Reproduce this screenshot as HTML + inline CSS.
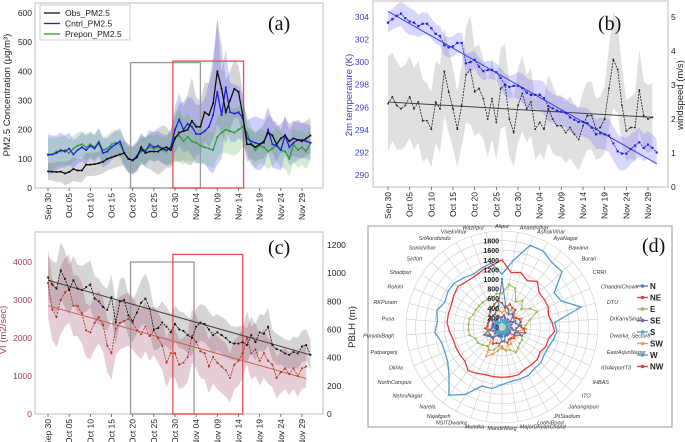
<!DOCTYPE html>
<html><head><meta charset="utf-8"><style>
body{margin:0;background:#fff;}
svg{display:block;font-family:"Liberation Sans",sans-serif;}
</style></head><body>
<svg id="fig" width="685" height="442" viewBox="0 0 685 442" xmlns="http://www.w3.org/2000/svg"></svg>
<script>
// ---------- shared ----------
const dateTicks = ["Sep 30","Oct 05","Oct 10","Oct 15","Oct 20","Oct 25","Oct 30","Nov 04","Nov 09","Nov 14","Nov 19","Nov 24","Nov 29"];
const dateTickDays = [0,5,10,15,20,25,30,35,40,45,50,55,60];

// ---------- panel (a) ----------
const aObs = [57,56,55,56,50,55,65,60,60,80, 80,82,85,90,100,105,110,115,120,100, 95,105,140,120,125,125,125,135,140,130, 170,190,195,200,230,210,210,260,250,290, 400,340,260,300,340,330,250,150,150,140, 150,160,190,180,150,170,180,160,170,165, 160,170,180];
const aCntrl = [115,115,120,130,125,135,115,130,140,130, 145,135,155,120,125,140,150,160,120,100, 95,110,130,125,150,140,145,135,130,140, 200,235,200,220,210,185,185,195,210,250, 330,250,345,260,255,260,240,170,160,155, 150,155,200,150,145,130,180,140,155,165, 165,160,155];
const aPrepon = [112,115,125,125,130,120,135,145,150,140, 150,140,160,130,135,150,155,150,120,100, 95,110,125,130,140,135,140,130,125,140, 175,180,160,175,160,155,145,140,135,130, 175,190,200,195,190,200,210,190,150,130, 145,140,125,135,150,130,125,100,150,130, 140,125,155];
const aObsSpread = [30,30,35,35,40,40,40,40,40,40, 40,40,40,40,40,40,40,40,40,45, 45,50,50,50,60,70,80,80,70,60, 80,100,100,120,150,100,90,100,110,120, 180,150,110,100,100,90,80,60,50,50, 50,60,60,60,60,50,60,60,60,60, 60,60,60];
const aCntrlSpread = [70,65,60,60,55,55,50,45,50,50, 45,45,50,50,45,45,45,45,50,50, 50,50,50,50,50,50,50,50,50,60, 80,90,80,90,100,100,100,110,150,200, 250,150,130,100,100,90,80,60,80,90, 90,80,80,80,80,70,70,60,70,70, 60,60,60];
const aPreponSpread = [60,55,50,50,50,45,45,45,45,45, 45,45,45,45,45,45,45,45,45,45, 45,45,45,45,45,45,45,45,50,60, 80,90,80,80,70,70,60,60,60,60, 70,70,80,80,80,80,70,60,60,60, 60,60,60,60,60,60,60,60,60,60, 60,60,60];
const aYTicks = [0,100,200,300,400,500,600];
const aGrayBox = [19.5,36,430];
const aRedBox = [29.5,46.2,435];

// ---------- panel (b) ----------
const bTemp = [303.5,303.8,304.1,304.3,303.9,303.6,303.5,303.2,303.4,303.4, 303,302.5,302.3,301.5,301.3,301.4,301.7,301.7,299.9,300, 300.2,299.6,299.2,299.3,299.3,299.1,298.6,298,297.8,297.9, 297.9,297.7,297.3,297.1,297.1,297.1,296.8,296.1,295.9,295.7, 295.6,295.5,295.1,294.9,294.7,294.7,294.6,294.2,293.6,293.7, 293.6,293.5,292.8,292.1,291.9,291.9,292.3,292.6,292.9,292.4, 292.7,292.4,292.0];
const bWind = [2.45,2.65,2.4,2.3,2.4,2.65,2.3,2.5,1.95,1.95, 1.7,2.5,2.3,3.4,2.8,2.3,1.7,2.4,3.3,3.45, 2.8,2.9,2.6,2.0,2.6,1.9,2.9,3.0,2.0,1.6, 2.4,2.75,2.3,2.5,1.7,1.9,1.7,2.3,2.0,1.8, 1.8,1.6,1.75,1.55,1.4,1.8,2.1,2.1,1.7,1.75, 2.0,2.9,3.75,3.45,2.4,1.65,1.75,1.75,2.85,2.1, 2.0,2.05];
const bTempSpread = [0.9,0.9,1.0,1.1,1.2,1.2,1.1,1.0,1.0,1.0, 0.9,0.9,0.9,0.9,0.9,0.9,0.9,0.9,0.9,0.9, 0.8,0.8,0.8,0.8,0.8,0.8,0.9,1.0,1.0,1.0, 1.2,1.3,1.3,1.3,1.3,1.3,1.4,1.4,1.3,1.3, 1.3,1.3,1.3,1.3,1.3,1.3,1.3,1.3,1.3,1.4, 1.4,1.5,1.5,1.5,1.5,1.4,1.3,1.3,1.3,1.2, 1.2,1.2,1.2];
const bWindSpread = [1.4,1.3,1.3,1.2,1.2,1.2,1.2,1.2,1.2,1.1, 1.1,1.2,1.3,1.3,1.2,1.2,1.1,1.2,1.4,1.6, 1.3,1.3,1.2,1.1,1.2,1.1,1.2,1.2,1.1,1.0, 1.1,1.1,1.0,1.0,0.9,0.9,0.9,1.0,1.0,0.9, 0.9,0.9,0.9,0.9,0.9,1.0,1.0,1.0,0.9,0.9, 1.0,1.2,1.4,1.3,1.1,0.9,0.9,1.0,1.2,1.0, 1.0,1.0];
const bTempTrend = [304.5,291.0];
const bWindTrend = [2.5,2.05];
const bLeftTicks = [290,292,294,296,298,300,302,304];
const bRightTicks = [0,1,2,3,4,5];

// ---------- panel (c) ----------
const cPBLH = [970,920,890,1020,960,880,950,890,880,900, 920,820,800,760,740,830,650,800,810,700, 660,720,790,820,750,600,610,650,620,580, 640,600,590,560,540,620,650,640,600,560, 580,560,540,510,500,500,510,490,560,510, 580,570,620,490,460,450,430,420,440,430, 480,490,420];
const cVI = [3450,2750,2550,3000,3200,3300,2850,2850,2650,2200, 2150,2400,2550,2350,1800,1600,2250,2400,2450,2500, 2400,2200,2100,2300,2050,2200,2000,1800,1350,1600, 1600,1300,1350,1500,2050,1900,1650,1600,1250,1500, 1350,1250,1150,950,1300,1400,1600,2000,1600,1700, 1400,1600,1400,1300,950,1100,1200,1050,1200,1000, 1200,1250];
const cPBLHSpread = [150,170,180,200,200,180,170,170,170,170, 170,160,160,150,150,160,150,160,160,150, 150,150,160,180,170,150,150,150,140,130, 130,130,130,130,130,130,130,130,130,130, 130,130,130,120,120,120,120,120,130,130, 130,130,130,110,110,100,100,100,110,110, 110,110,110];
const cVISpread = [900,800,800,900,900,900,800,800,800,700, 700,700,700,700,700,700,700,700,700,700, 700,650,650,650,650,650,650,650,650,650, 650,650,650,650,700,700,700,700,700,700, 700,700,700,650,650,650,650,700,700,700, 650,650,600,600,550,550,550,550,550,550, 550,550];
const cPBLHTrend = [950,420];
const cVITrend = [2850,930];
const cLeftTicks = [0,1000,2000,3000,4000];
const cRightTicks = [0,200,400,600,800,1000,1200];
const cGrayBox = [19.5,34.5,4000];
const cRedBox = [29.5,46,4200];

// ---------- panel (d) ----------
const dStations = ["Alipur","AnandVihar","AshokVihar","AyaNagar","Bawana","Burari","CRRI","ChandniChowk","DTU","DrKarniSingh","Dwarka_Sector8","EastArjunNagar","IGIAirportT3","IHBAS","ITO","Jahangirpuri","JNStadium","LodhiRoad","MajorDhyanChand","MandirMarg","Mundka","NSITDwarka","Najafgarh","Narela","NehruNagar","NorthCampus","Okhla","Patparganj","PunjabiBagh","Pusa","RKPuram","Rohini","Shadipur","Sirifort","SoniaVihar","SriAurobindo","VivekVihar","Wazirpur"];
const dRingTicks = [0,200,400,600,800,1000,1200,1400,1600,1800];
const dSeriesNames = ["N","NE","E","SE","S","SW","W","NW"];
const dN  = [1000,450,400,300,350,300,200,300,300,400, 300,300,450,300,200,200,200,200,300,300, 200,200,200,250,300,350,400,300,200,200, 200,200,250,300,300,300,400,450];
const dNE = [500,400,500,450,450,300,350,400,400,350, 450,500,300,300,350,300,300,350,300,300, 350,350,400,300,300,300,400,300,350,300, 300,300,300,350,400,450,500,550];
const dE  = [700,900,850,600,700,550,700,800,600,500, 450,500,450,500,500,550,600,500,500,450, 400,500,550,500,550,600,600,700,700,700, 700,650,650,650,650,650,650,700];
const dSE = [200,250,200,150,200,150,200,250,200,150, 200,250,150,200,150,150,200,150,150,200, 150,200,150,150,200,150,200,250,200,150, 200,150,150,200,150,200,250,200];
const dS  = [150,100,150,100,150,100,100,150,100,150, 100,150,100,100,150,100,100,150,100,150, 100,100,150,100,150,100,100,150,100,150, 100,100,150,100,150,100,100,150];
const dSW = [300,350,300,400,400,350,300,450,400,350, 500,350,400,350,300,300,400,400,500,400, 500,600,700,400,300,300,300,250,300,300, 300,300,300,300,300,300,350,350];
const dW  = [1100,1400,1800,1800,1700,1700,1300,1350,1700,1100, 1150,1100,1050,1050,1100,1100,1150,1150,1150,1200, 1300,1300,1600,1800,1500,1350,1300,1300,1400,1350, 1400,1300,1350,1350,1300,1250,1300,1350];
const dNW = [1400,1150,1200,1100,1200,1050,1050,1050,1000,1050, 1100,1000,1000,950,1000,1000,1000,1050,1050,1050, 1050,1050,1100,1150,1050,1050,1050,1050,1100,1150, 1150,1150,1200,1250,1200,1200,1250,1300];
const dColors = ["#4a7ebb","#be4b48","#98b954","#7d60a0","#46aac5","#f79646","#4f9bd0","#e03c3c"];

// ---------- helpers ----------
const NS = "http://www.w3.org/2000/svg";
const fig = document.getElementById('fig');
function mk(tag, attrs, parent){
  const e = document.createElementNS(NS, tag);
  for (const k in attrs) e.setAttribute(k, attrs[k]);
  (parent||fig).appendChild(e);
  return e;
}
function pathD(pts){ return pts.map((p,i)=>(i?'L':'M')+p[0].toFixed(1)+' '+p[1].toFixed(1)).join(''); }

function drawFrame(x1,y1,x2,y2,name){
  const r = mk('rect',{x:x1,y:y1,width:x2-x1,height:y2-y1,fill:'none',stroke:'#c8c8c8','stroke-width':1.2});
  
  
}
function drawXTicks(xf, yAxis, prefix){
  dateTickDays.forEach((d,i)=>{
    const x = xf(d);
    const t = mk('line',{x1:x,y1:yAxis,x2:x,y2:yAxis+3,stroke:'#555','stroke-width':0.8});
    
    
    const tx = mk('text',{x:0,y:0,'font-size':8.5,fill:'#222','text-anchor':'end',transform:`translate(${x+3},${yAxis+5}) rotate(-90)`});
    tx.textContent = dateTicks[i];
    
    
  });
}
function drawYTicks(ticks, yf, x, anchor, color, prefix){
  ticks.forEach(v=>{
    const tx = mk('text',{x:x,y:yf(v)+3,'font-size':8.5,fill:color,'text-anchor':anchor});
    tx.textContent = v;
    
    
  });
}
function drawBand(vals, spread, xf, yf, color, opacity, name){
  const up = vals.map((v,i)=>[xf(i),yf(v+spread[i])]);
  const lo = vals.map((v,i)=>[xf(i),yf(Math.max(0,v-spread[i]))]).reverse();
  const p = mk('path',{d:pathD(up.concat(lo))+'Z',fill:color,'fill-opacity':opacity,stroke:'none'});
  
  
}
function drawSeries(vals, xf, yf, color, w, dash, name, ms){
  const pts = vals.map((v,i)=>[xf(i),yf(v)]);
  const p = mk('path',{d:pathD(pts),fill:'none',stroke:color,'stroke-width':w,'stroke-dasharray':dash||'none'});
  
  
  pts.forEach(pt=>{
    const m = mk('rect',{x:pt[0]-ms/2,y:pt[1]-ms/2,width:ms,height:ms,fill:color});
    
    
  });
}
function drawBox(box, xf, yf, yBottom, color, name){
  const r = mk('rect',{x:xf(box[0]),y:yf(box[2]),width:xf(box[1])-xf(box[0]),height:yBottom-yf(box[2]),fill:'none',stroke:color,'stroke-width':1.3});
  
  
}
function drawTrend(tr, n, xf, yf, color, name){
  const l = mk('line',{x1:xf(0),y1:yf(tr[0]),x2:xf(n-1),y2:yf(tr[1]),stroke:color,'stroke-width':1});
  
  
}
function label(txt,x,y,size,name,fam){
  const t = mk('text',{x:x,y:y,'font-size':size,'font-family':fam||'"Liberation Serif",serif',fill:'#111'});
  t.textContent = txt;
  
  
}
function rotTitle(txt,x,y,color,name){
  const t = mk('text',{x:0,y:0,'font-size':9.5,fill:color,'text-anchor':'middle',transform:`translate(${x},${y}) rotate(-90)`});
  t.textContent = txt;
  
  
}

// ---------- draw (a) ----------
(function(){
  const xf = d => 48 + d*(302-48)/60;
  const yf = v => 188 - v*(188-13)/600;
  drawFrame(35,3,323,188,'panel-a-plot-area');
  drawBand(aObs,aObsSpread,xf,yf,'#888',0.35,'obs-band');
  drawBand(aCntrl,aCntrlSpread,xf,yf,'#6060ff',0.3,'cntrl-band');
  drawBand(aPrepon,aPreponSpread,xf,yf,'#50b050',0.25,'prepon-band');
  drawBox(aGrayBox,xf,yf,188,'#999','period-box-gray-a');
  drawBox(aRedBox,xf,yf,188,'#e05050','period-box-red-a');
  drawSeries(aPrepon,xf,yf,'#2f9a2f',1.2,null,'prepon-pm25-line',1.8);
  drawSeries(aCntrl,xf,yf,'#2020e0',1.3,null,'cntrl-pm25-line',1.8);
  drawSeries(aObs,xf,yf,'#111',1.3,null,'obs-pm25-line',1.8);
  drawXTicks(xf,188,'a');
  drawYTicks(aYTicks,yf,32,'end','#222','a-y');
  rotTitle('PM2.5 Concentration (μg/m³)',10,95,'#222','a-y-axis-title');
  label('(a)',268,30,20,'panel-a-label');
  const lg = mk('rect',{x:40,y:5,width:90,height:35,fill:'#fff','fill-opacity':0.85,stroke:'#ccc'});
  
  
  [['Obs_PM2.5','#111'],['Cntrl_PM2.5','#2020e0'],['Prepon_PM2.5','#2f9a2f']].forEach((e,i)=>{
    const y = 13+i*10.5;
    const l = mk('line',{x1:44,y1:y,x2:60,y2:y,stroke:e[1],'stroke-width':1.3});
    
    
    const t = mk('text',{x:65,y:y+3,'font-size':8.5,fill:'#222'});
    t.textContent = e[0];
    
    
  });
})();

// ---------- draw (b) ----------
(function(){
  const xf = d => 388 + d*(648-388)/60;
  const yl = v => 175 - (v-290)*(175-17)/14;
  const yr = v => 187 - v*(187-17)/5;
  drawFrame(373,1,668,187,'panel-b-plot-area');
  drawBand(bWind,bWindSpread,xf,yr,'#999',0.3,'wind-band');
  drawBand(bTemp,bTempSpread,xf,yl,'#7070ff',0.28,'temp-band');
  drawTrend(bTempTrend,bTemp.length,xf,yl,'#4040e0','temp-trend-line');
  drawTrend(bWindTrend,bWind.length,xf,yr,'#444','wind-trend-line');
  drawSeries(bWind,xf,yr,'#222',0.8,'2,1','windspeed-line',1.6);
  drawSeries(bTemp,xf,yl,'#2020e0',0.8,'2,1','temperature-line',2.2);
  drawXTicks(xf,187,'b');
  drawYTicks(bLeftTicks,yl,369,'end','#4040d0','b-left-y');
  drawYTicks(bRightTicks,yr,671,'start','#222','b-right-y');
  rotTitle('2m temperature (K)',352,95,'#4040d0','b-left-axis-title');
  rotTitle('windspeed (m/s)',683,95,'#222','b-right-axis-title');
  label('(b)',598,30,20,'panel-b-label');
})();

// ---------- draw (c) ----------
(function(){
  const xf = d => 48 + d*(302-48)/60;
  const yl = v => 414 - v*(414-262)/4000;
  const yr = v => 414 - v*(414-245)/1200;
  drawFrame(35,232,323,414,'panel-c-plot-area');
  drawBand(cPBLH,cPBLHSpread,xf,yr,'#888',0.35,'pblh-band');
  drawBand(cVI,cVISpread,xf,yl,'#a05070',0.28,'vi-band');
  drawBox(cGrayBox,xf,yl,414,'#999','period-box-gray-c');
  drawBox(cRedBox,xf,yl,414,'#e05050','period-box-red-c');
  drawTrend(cPBLHTrend,cPBLH.length,xf,yr,'#444','pblh-trend-line');
  drawTrend(cVITrend,cVI.length,xf,yl,'#d06050','vi-trend-line');
  drawSeries(cVI,xf,yl,'#b03020',0.8,'2,1','vi-line',1.8);
  drawSeries(cPBLH,xf,yr,'#111',0.8,'2,1','pblh-line',1.8);
  drawXTicks(xf,414,'c');
  drawYTicks(cLeftTicks,yl,32,'end','#a04050','c-left-y');
  drawYTicks(cRightTicks,yr,327,'start','#222','c-right-y');
  rotTitle('VI (m2/sec)',6,330,'#a04050','c-left-axis-title');
  rotTitle('PBLH (m)',355,327,'#222','c-right-axis-title');
  label('(c)',268,254,20,'panel-c-label');
})();

// ---------- draw (d) ----------
(function(){
  const cx = 502, cy = 327, R = 96, maxV = 2000;
  const fr = mk('rect',{x:368,y:226,width:304,height:201,fill:'#fff',stroke:'#aaa','stroke-width':1.2});
  
  
  const n = dStations.length;
  const ang = i => -Math.PI/2 + i*2*Math.PI/n;
  const rf = v => v/maxV*R;
  dRingTicks.concat([maxV]).forEach(v=>{
    const c = mk('circle',{cx:cx,cy:cy,r:rf(v),fill:'none',stroke:'#ccc','stroke-width':0.6});
    
    
  });
  dStations.forEach((s,i)=>{
    const a = ang(i);
    const l = mk('line',{x1:cx,y1:cy,x2:cx+R*Math.cos(a),y2:cy+R*Math.sin(a),stroke:'#ccc','stroke-width':0.6});
    
    
    const lx = cx+(R+7)*Math.cos(a)*1.05, ly = cy+(R+5)*Math.sin(a);
    const anc = Math.cos(a)>0.15?'start':(Math.cos(a)<-0.15?'end':'middle');
    const t = mk('text',{x:lx,y:ly+2,'font-size':5.5,'font-style':'italic',fill:'#333','text-anchor':anc});
    t.textContent = s;
    
    
  });
  const series = [dN,dNE,dE,dSE,dS,dSW,dW,dNW];
  const order = [6,7,2,5,1,0,3,4];
  order.forEach(k=>{
    const vals = series[k];
    const pts = vals.map((v,i)=>[cx+rf(v)*Math.cos(ang(i)),cy+rf(v)*Math.sin(ang(i))]);
    const p = mk('path',{d:pathD(pts)+'Z',fill:'none',stroke:dColors[k],'stroke-width':k>=6?1.3:1});
    
    
    if (k<6) pts.forEach(pt=>{
      const m = mk('circle',{cx:pt[0],cy:pt[1],r:1.2,fill:dColors[k]});
      
      
    });
  });
  dRingTicks.forEach(v=>{
    const t = mk('text',{x:cx-3,y:cy-rf(v)+3,'font-size':7,'font-weight':'bold',fill:'#222','text-anchor':'end'});
    t.textContent = v;
    
    
  });
  dSeriesNames.forEach((s,k)=>{
    const y = 286 + k*11.5;
    const l = mk('line',{x1:637,y1:y,x2:648,y2:y,stroke:dColors[k],'stroke-width':1.3});
    
    
    const m = mk('circle',{cx:642.5,cy:y,r:1.8,fill:dColors[k]});
    
    
    const t = mk('text',{x:650,y:y+3,'font-size':8,'font-weight':'bold',fill:'#222'});
    t.textContent = s;
    
    
  });
  label('(d)',642,252,20,'panel-d-label');
})();
</script>
</body></html>
